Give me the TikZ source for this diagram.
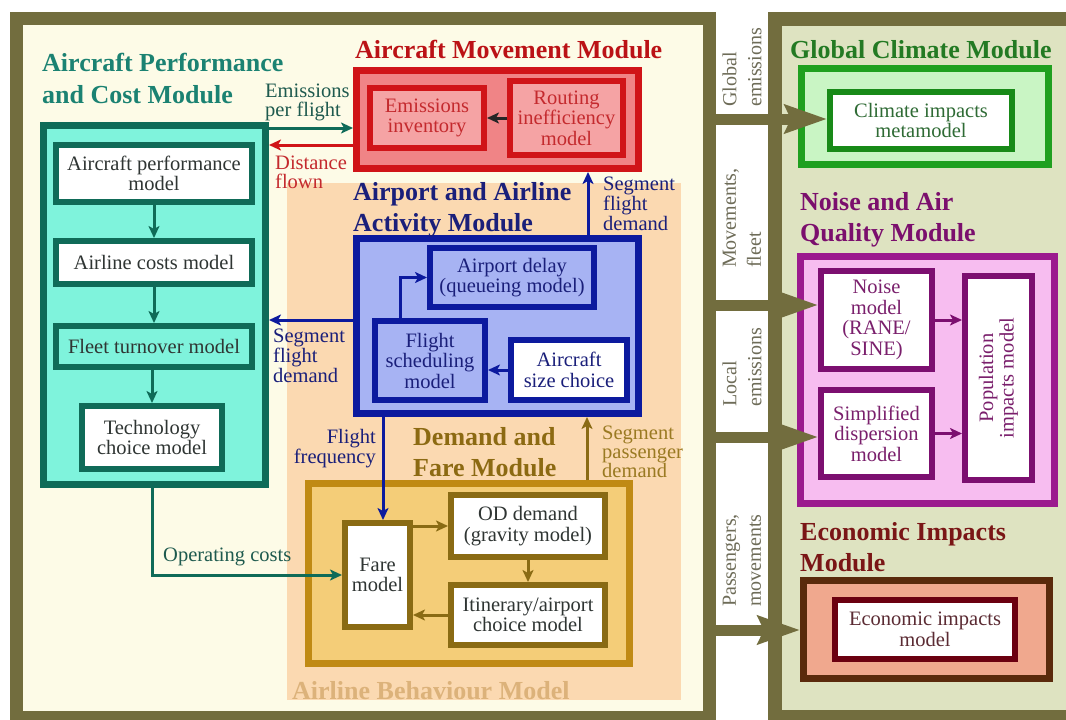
\documentclass[tikz,border=0pt]{standalone}
\usepackage{fontspec}
\setmainfont{Liberation Serif}
\usetikzlibrary{arrows.meta}
\definecolor{olv}{HTML}{726D3E}
\definecolor{cream}{HTML}{FDFBE7}
\definecolor{sage}{HTML}{DEE3C1}
\definecolor{peach}{HTML}{FBD9B1}
\definecolor{tealfill}{HTML}{7FF3DC}
\definecolor{tealdraw}{HTML}{0F6B58}
\definecolor{tealtitle}{HTML}{1B8272}
\definecolor{tealtext}{HTML}{1E5A4E}
\definecolor{redfill}{HTML}{F08486}
\definecolor{redinner}{HTML}{F5A3A4}
\definecolor{reddraw}{HTML}{D01418}
\definecolor{redtext}{HTML}{C42A2E}
\definecolor{bluefill}{HTML}{A7B3F3}
\definecolor{bluedraw}{HTML}{0C1A9E}
\definecolor{bluetext}{HTML}{1A1F7A}
\definecolor{goldfill}{HTML}{F4CD78}
\definecolor{golddraw}{HTML}{C08A14}
\definecolor{goldinner}{HTML}{8A6B14}
\definecolor{goldtitle}{HTML}{8C6A12}
\definecolor{goldtext}{HTML}{9A7A22}
\definecolor{abmtext}{HTML}{DCB27A}
\definecolor{greenfill}{HTML}{C9F5C4}
\definecolor{greendraw}{HTML}{1FA01F}
\definecolor{greeninner}{HTML}{188A18}
\definecolor{greentext}{HTML}{2F6B35}
\definecolor{greentitle}{HTML}{237A23}
\definecolor{purpfill}{HTML}{F7BDF0}
\definecolor{purpdraw}{HTML}{9B1A8E}
\definecolor{purpinner}{HTML}{7C0F70}
\definecolor{purptext}{HTML}{7A1F6C}
\definecolor{purptitle}{HTML}{7B0F6D}
\definecolor{econfill}{HTML}{F0A88E}
\definecolor{econdraw}{HTML}{5A2A0C}
\definecolor{econinner}{HTML}{6B0010}
\definecolor{econtext}{HTML}{5B2B33}
\definecolor{econtitle}{HTML}{7A1616}
\definecolor{graytext}{HTML}{2F3533}
\definecolor{gaptext}{HTML}{6E6C58}
\newcommand\bodyfnt{\fontsize{20.5pt}{20.5pt}\selectfont}
\newcommand\lblfnt{\fontsize{20.5pt}{18.5pt}\selectfont}
\newcommand\ttlfnt{\fontsize{26pt}{31.5pt}\selectfont\bfseries}
\newcommand\gapfnt{\fontsize{20pt}{25pt}\selectfont}
\begin{document}
\begin{tikzpicture}[x=1pt,y=-1pt,
  module/.style={draw, line width=7pt, inner sep=0pt},
  inbox/.style={draw, line width=6pt, align=center, font=\bodyfnt, inner sep=2pt},
  ttl/.style={anchor=north west, inner sep=0pt, align=left, font=\ttlfnt},
  lbl/.style={anchor=north west, inner sep=0pt, align=left, font=\lblfnt},
  conn/.style={line width=3pt, -{Stealth[length=12pt,width=11pt,inset=3pt]}},
  bigarr/.style={draw=olv, line width=11pt, -{Stealth[length=42pt,width=28pt,inset=6pt]}},
  gaplbl/.style={rotate=90, anchor=west, inner sep=0pt, align=left, font=\gapfnt, text=gaptext}]
\useasboundingbox (0,0) rectangle (1066,720);
\clip (0,0) rectangle (1066,720);
\fill[white] (0,0) rectangle (1066,720);

% frames
\node[draw=olv, fill=cream, line width=13pt, minimum width=693pt, minimum height=699pt, inner sep=0pt] (lf) at (363,368) {};
\node[draw=olv, fill=sage, line width=14pt, minimum width=298pt, minimum height=698pt, inner sep=0pt] (rf) at (924,368) {};
\fill[peach] (287,183) rectangle (681,700);

% Aircraft performance and cost module
\node[module, draw=tealdraw, fill=tealfill, minimum width=222pt, minimum height=359pt] (apc) at (154.5,305) {};
\node[inbox, draw=tealdraw, fill=white, text=graytext, minimum width=196pt, minimum height=57pt] (ap) at (154,173.5) {Aircraft performance\\model};
\node[inbox, draw=tealdraw, fill=white, text=graytext, minimum width=196pt, minimum height=43pt] (ac) at (154,262.5) {Airline costs model};
\node[inbox, draw=tealdraw, fill=tealfill, text=graytext, minimum width=196pt, minimum height=41pt] (ft) at (154,346.5) {Fleet turnover model};
\node[inbox, draw=tealdraw, fill=white, text=graytext, minimum width=140pt, minimum height=63pt] (tc) at (152,437.5) {Technology\\choice model};

% Aircraft movement module
\node[module, draw=reddraw, fill=redfill, minimum width=282pt, minimum height=98pt] (amm) at (497.5,119.5) {};
\node[inbox, draw=reddraw, fill=redinner, text=redtext, minimum width=114pt, minimum height=60pt] (ei) at (427,118) {Emissions\\inventory};
\node[inbox, draw=reddraw, fill=redinner, text=redtext, minimum width=113pt, minimum height=74pt] (ri) at (566.5,118) {Routing\\inefficiency\\model};

% Airport and airline activity module
\node[module, draw=bluedraw, fill=bluefill, minimum width=282pt, minimum height=175pt] (aaa) at (497.5,326) {};
\node[inbox, draw=bluedraw, fill=bluefill, text=bluetext, minimum width=164pt, minimum height=59pt] (ad) at (512,277.5) {Airport delay\\(queueing model)};
\node[inbox, draw=bluedraw, fill=bluefill, text=bluetext, minimum width=110pt, minimum height=79pt] (fs) at (430,360.5) {Flight\\scheduling\\model};
\node[inbox, draw=bluedraw, fill=white, text=bluetext, minimum width=116pt, minimum height=60pt] (as) at (569,370) {Aircraft\\size choice};

% Demand and fare module
\node[module, draw=golddraw, fill=goldfill, minimum width=321pt, minimum height=180pt] (dfm) at (469,573.5) {};
\node[inbox, draw=goldinner, fill=white, text=graytext, minimum width=65pt, minimum height=104pt] (fm) at (377.5,575) {Fare\\model};
\node[inbox, draw=goldinner, fill=white, text=graytext, minimum width=154pt, minimum height=62pt] (od) at (528,526) {OD demand\\(gravity model)};
\node[inbox, draw=goldinner, fill=white, text=graytext, minimum width=154pt, minimum height=60pt] (it) at (528,615) {Itinerary/airport\\choice model};

% Global climate module
\node[module, draw=greendraw, fill=greenfill, minimum width=247pt, minimum height=96pt] (gcm) at (925,116.5) {};
\node[inbox, draw=greeninner, fill=white, text=greentext, minimum width=182pt, minimum height=57pt] (ci) at (921,120.5) {Climate impacts\\metamodel};

% Noise and air quality module
\node[module, draw=purpdraw, fill=purpfill, minimum width=254pt, minimum height=247pt] (naq) at (927.5,380) {};
\node[inbox, draw=purpinner, fill=white, text=purptext, minimum width=111pt, minimum height=98pt] (nm) at (876.5,320) {Noise\\model\\(RANE/\\SINE)};
\node[inbox, draw=purpinner, fill=white, text=purptext, minimum width=111pt, minimum height=87pt] (sd) at (876.5,433.5) {Simplified\\dispersion\\model};
\node[draw=purpinner, fill=white, line width=6pt, inner sep=0pt, minimum width=67pt, minimum height=204pt] (pi) at (998.5,378) {};
\node[rotate=90, align=center, font=\bodyfnt, text=purptext, inner sep=0pt] (pitxt) at (pi.center) {Population\\impacts model};

% Economic impacts module
\node[module, draw=econdraw, fill=econfill, minimum width=246pt, minimum height=98pt] (eim) at (926.5,629.5) {};
\node[inbox, draw=econinner, fill=white, text=econtext, minimum width=180pt, minimum height=59pt] (em) at (925,629.5) {Economic impacts\\model};

% titles
\node[ttl, text=tealtitle] (t1) at (42,53) {Aircraft Performance\\and Cost Module};
\node[ttl, text=reddraw!90!black] (t2) at (355,40) {Aircraft Movement Module};
\node[ttl, text=bluetext] (t3) at (353,182) {Airport and Airline\\Activity Module};
\node[ttl, text=goldtitle] (t4) at (413,427) {Demand and\\Fare Module};
\node[ttl, text=abmtext] (t5) at (292,681) {Airline Behaviour Model};
\node[ttl, text=greentitle] (t6) at (790,40) {Global Climate Module};
\node[ttl, text=purptitle] (t7) at (800,192) {Noise and Air\\Quality Module};
\node[ttl, text=econtitle] (t8) at (800,522) {Economic Impacts\\Module};

% helper coordinates
\coordinate (yEP) at (0,128);
\coordinate (yDF) at (0,145);
\coordinate (ySFL) at (0,320);
\coordinate (xSFU) at (588,0);
\coordinate (xFF) at (383,0);
\coordinate (xSPD) at (587,0);
\coordinate (xFS) at (400,0);
\coordinate (yGE) at (0,119);
\coordinate (yMF) at (0,305);
\coordinate (yLE) at (0,437);
\coordinate (yPM) at (0,630);

% connectors
\draw[conn, tealdraw] (ap) -- (ac);
\draw[conn, tealdraw] (ac) -- (ft);
\draw[conn, tealdraw] (ft.south -| tc.north) -- (tc.north);
\draw[conn, tealdraw] (apc.south -| tc) |- (fm.west);
\draw[conn, tealdraw] (apc.east |- yEP) -- (amm.west |- yEP);
\draw[conn, reddraw] (amm.west |- yDF) -- (apc.east |- yDF);
\draw[conn, black!85] (ri.west) -- (ei.east);
\draw[conn, bluedraw] (aaa.north -| xSFU) -- (amm.south -| xSFU);
\draw[conn, bluedraw] (aaa.west |- ySFL) -- (apc.east |- ySFL);
\draw[conn, bluedraw] (fs.north -| xFS) |- (ad.west);
\draw[conn, bluedraw] (as.west) -- (as.west -| fs.east);
\draw[conn, bluedraw] (aaa.south -| xFF) -- (fm.north -| xFF);
\draw[conn, goldinner] (dfm.north -| xSPD) -- (aaa.south -| xSPD);
\draw[conn, goldinner] (fm.east |- od.west) -- (od.west);
\draw[conn, goldinner] (od) -- (it);
\draw[conn, goldinner] (it.west) -- (it.west -| fm.east);
\draw[conn, purpinner] (nm.east) -- (nm.east -| pi.west);
\draw[conn, purpinner] (sd.east) -- (sd.east -| pi.west);

% big arrows
\draw[bigarr] (lf.east |- yGE) -- (ci.west |- yGE);
\draw[bigarr] (lf.east |- yMF) -- (nm.west |- yMF);
\draw[bigarr] (lf.east |- yLE) -- (sd.west |- yLE);
\draw[bigarr] (lf.east |- yPM) -- (eim.west |- yPM);

% connector labels
\node[lbl, text=tealtext] (l1) at (265,84) {Emissions\\per flight};
\node[lbl, text=redtext] (l2) at (275,156) {Distance\\flown};
\node[lbl, text=bluetext] (l3) at (603,177) {Segment\\flight\\demand};
\node[lbl, text=bluetext] (l4) at (273,329) {Segment\\flight\\demand};
\node[lbl, text=bluetext, anchor=north east, align=right] (l5) at (376,429) {Flight\\frequency};
\node[lbl, text=goldtext] (l6) at (602,426) {Segment\\passenger\\demand};
\node[lbl, text=tealtext] (l7) at (163,548) {Operating costs};

% gap labels
\node[gaplbl] (g1) at (742,107) {Global\\emissions};
\node[gaplbl] (g2) at (742,268) {Movements,\\fleet};
\node[gaplbl] (g3) at (742,407) {Local\\emissions};
\node[gaplbl] (g4) at (742,607) {Passengers,\\movements};
\end{tikzpicture}
\end{document}
